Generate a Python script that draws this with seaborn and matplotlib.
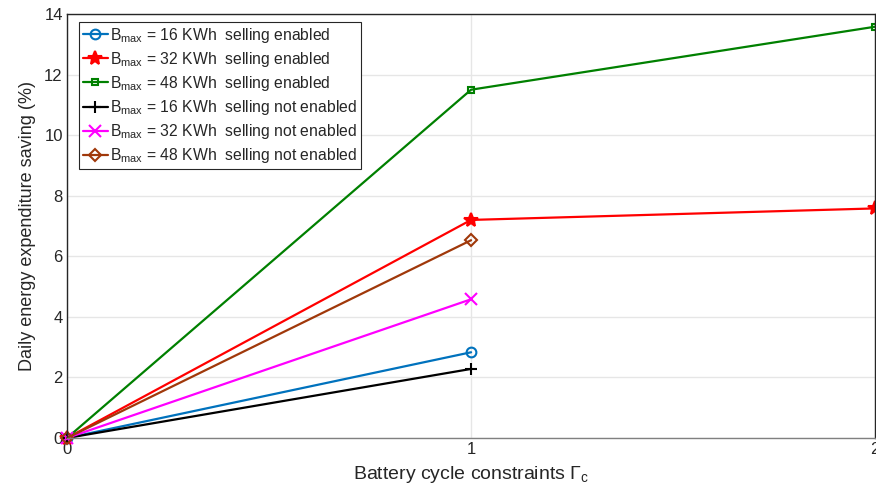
import matplotlib
matplotlib.use("Agg")
import matplotlib.pyplot as plt
import seaborn as sns
import pandas as pd

sns.set_theme(style="whitegrid")
plt.rcParams['font.family'] = ['Liberation Sans', 'DejaVu Sans']
plt.rcParams['mathtext.fontset'] = 'custom'
plt.rcParams['mathtext.rm'] = 'Liberation Sans'
plt.rcParams['mathtext.it'] = 'Liberation Sans:italic'
plt.rcParams['mathtext.sf'] = 'Liberation Sans'

# Data
x_enabled_16 = [0, 1]
y_enabled_16 = [0, 2.83]
x_enabled_32 = [0, 1, 2]
y_enabled_32 = [0, 7.2, 7.58]
x_enabled_48 = [0, 1, 2]
y_enabled_48 = [0, 11.5, 13.58]
x_not_16 = [0, 1]
y_not_16 = [0, 2.28]
x_not_32 = [0, 1]
y_not_32 = [0, 4.58]
x_not_48 = [0, 1]
y_not_48 = [0, 6.53]

labels = [
    r'B$_{\mathregular{max}}$ = 16 KWh  selling enabled',
    r'B$_{\mathregular{max}}$ = 32 KWh  selling enabled',
    r'B$_{\mathregular{max}}$ = 48 KWh  selling enabled',
    r'B$_{\mathregular{max}}$ = 16 KWh  selling not enabled',
    r'B$_{\mathregular{max}}$ = 32 KWh  selling not enabled',
    r'B$_{\mathregular{max}}$ = 48 KWh  selling not enabled',
]
xs = [x_enabled_16, x_enabled_32, x_enabled_48, x_not_16, x_not_32, x_not_48]
ys = [y_enabled_16, y_enabled_32, y_enabled_48, y_not_16, y_not_32, y_not_48]
colors = ['#0072BD', '#FF0000', '#008000', '#000000', '#FF00FF', '#A0380A']
markers = ['o', '*', 's', '+', 'x', 'D']
msizes = [7, 10, 5, 9, 8, 6]
mfaces = ['none', '#FF0000', 'none', '#000000', '#FF00FF', 'none']

fig = plt.figure(figsize=(8.76, 4.91), dpi=100)
ax = fig.add_axes([0.0765, 0.108, 0.9225, 0.8635])

for x, y, lab, c, m, ms, mf in zip(xs, ys, labels, colors, markers, msizes, mfaces):
    df = pd.DataFrame({'x': x, 'y': y})
    sns.lineplot(data=df, x='x', y='y', ax=ax, color=c, marker=m, markersize=ms,
                 markerfacecolor=mf, markeredgecolor=c, markeredgewidth=1.5,
                 linewidth=1.6, label=lab, clip_on=False)

ax.set_xlim(0, 2)
ax.set_ylim(0, 14)
ax.set_xticks([0, 1, 2])
ax.set_yticks(range(0, 15, 2))
ax.grid(True, color='#e6e6e6', linewidth=1)
ax.tick_params(direction='in', length=4, colors='#262626', labelsize=12, pad=3)
for s in ax.spines.values():
    s.set_color('#262626')
    s.set_linewidth(1)
ax.spines['bottom'].set_color('#808080')
ax.set_xlabel(r'Battery cycle constraints $\mathregular{\Gamma}_{\mathregular{c}}$', fontsize=14, color='#262626', labelpad=5)
ax.set_ylabel('Daily energy expenditure saving (%)', fontsize=13, color='#262626', labelpad=6)

leg = ax.legend(loc='upper left', bbox_to_anchor=(0.0145, 0.982), fontsize=11.3,
                frameon=True, fancybox=False, edgecolor='#262626', framealpha=1,
                handlelength=1.6, handletextpad=0.15, borderpad=0.25, labelspacing=0.33,
                borderaxespad=0)
leg.get_frame().set_linewidth(0.8)

fig.savefig('out.png', dpi=100)
